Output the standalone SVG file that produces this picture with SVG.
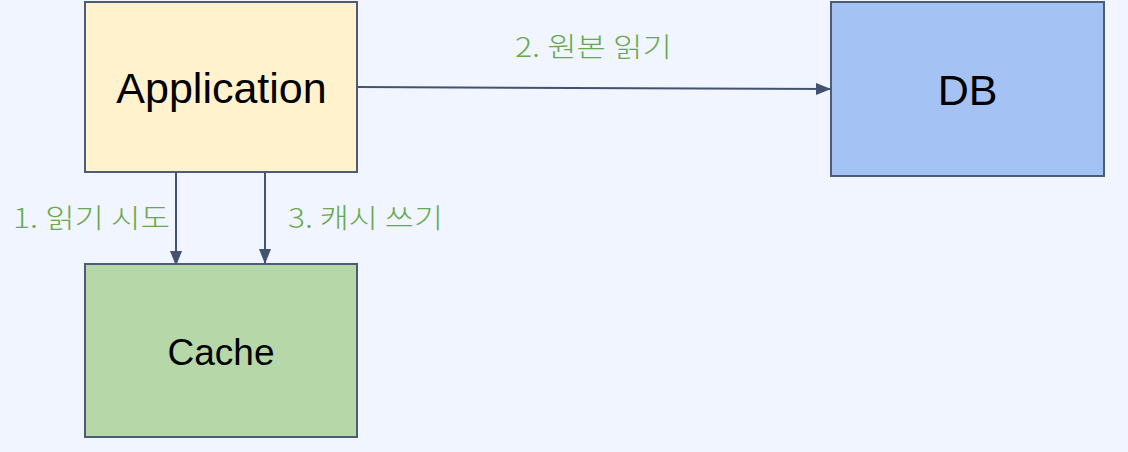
<svg xmlns="http://www.w3.org/2000/svg" width="1128" height="452" viewBox="0 0 1128 452">
<defs>
<style>
.box{stroke:#4d5b75;stroke-width:2}
.nt{font-family:"Liberation Sans",Arial,sans-serif;fill:#000;text-anchor:middle}
.lbl{font-family:"Noto Sans CJK KR","Noto Sans",sans-serif;font-size:27px;font-weight:300;fill:#6aa84f}
.edge{stroke:#435270;stroke-width:2;fill:none}
</style>
<marker id="ah" viewBox="0 0 15 12" refX="15" refY="6" markerWidth="15" markerHeight="12" markerUnits="userSpaceOnUse" orient="auto">
<path d="M0,0 L15,6 L0,12 z" fill="#435270"/>
</marker>
</defs>
<rect width="1128" height="452" fill="#f0f5ff"/>
<g id="connectors">
<line class="edge" x1="357" y1="87" x2="831" y2="89" marker-end="url(#ah)"/>
<line class="edge" x1="176" y1="172" x2="176" y2="266" marker-end="url(#ah)"/>
<line class="edge" x1="265" y1="172" x2="265" y2="264" marker-end="url(#ah)"/>
<text class="lbl" x="13" y="228" textLength="157" lengthAdjust="spacingAndGlyphs">1. 읽기 시도</text>
<text class="lbl" x="515" y="57" textLength="157" lengthAdjust="spacingAndGlyphs">2. 원본 읽기</text>
<text class="lbl" x="288" y="228" textLength="155" lengthAdjust="spacingAndGlyphs">3. 캐시 쓰기</text>
</g>
<g id="application">
<rect class="box" x="85" y="2" width="272" height="170" fill="#fff2cc"/>
<text class="nt" x="221.5" y="103" font-size="43">Application</text>
</g>
<g id="db">
<rect class="box" x="831" y="2" width="273" height="174" fill="#a4c2f4"/>
<text class="nt" x="967.5" y="105" font-size="43">DB</text>
</g>
<g id="cache">
<rect class="box" x="85" y="264" width="272" height="173" fill="#b6d7a8"/>
<text class="nt" x="221" y="365" font-size="37">Cache</text>
</g>
</svg>
